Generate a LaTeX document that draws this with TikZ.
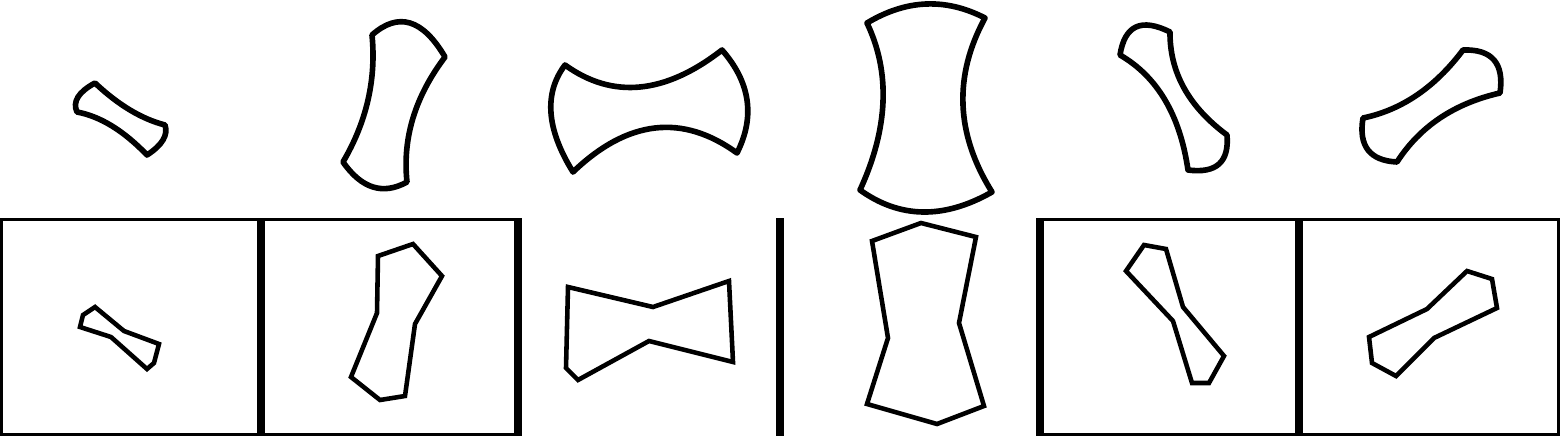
\documentclass[tikz,border=0pt]{standalone}
\usepackage{tikz}
\usetikzlibrary{calc}
% one curved edge from #1 to #3 that passes through #2
\newcommand{\arcto}[3]{.. controls ($1.3333*#2-0.3333*#3$) and ($1.3333*#2-0.3333*#1$) .. #3}
% one curved outline: corner, edge point, corner, ... (four edges)
\newcommand{\bone}[8]{\draw[curved] #1 \arcto{#1}{#2}{#3} \arcto{#3}{#4}{#5}
  \arcto{#5}{#6}{#7} \arcto{#7}{#8}{#1} -- cycle;}

\begin{document}
\begin{tikzpicture}[x=0.01cm,y=-0.01cm,
  curved/.style={line width=1.6pt,line join=round},
  poly/.style={line width=1.3pt,line join=miter},
  frame/.style={line width=0.85pt},
  divider/.style={line width=2.3pt}]
\useasboundingbox (0,0) rectangle (1560,436);
% frames of the lower row
\draw[frame] (1.5,219.5) rectangle (518,434.5);
\draw[frame] (1040,219.5) rectangle (1558.5,434.5);
\draw[divider] (261,218) -- (261,436);
\draw[divider] (518,218) -- (518,436);
\draw[divider] (780,218) -- (780,436);
\draw[divider] (1040,218) -- (1040,436);
\draw[divider] (1299,218) -- (1299,436);
% upper row: curved outlines
\bone{(95,83)}{(130,110)}{(165,125)}{(163,140)}{(147,155)}{(112,126)}{(77,112)}{(78,97)}
\bone{(372,35)}{(410,23)}{(445,57)}{(413,118)}{(407,182)}{(373,187)}{(343,162)}{(368,100)}
\bone{(565,65)}{(640,87)}{(722,50)}{(747,100)}{(737,153)}{(655,128)}{(573,172)}{(551,113)}
\bone{(867,23)}{(926,4)}{(985,18)}{(963,105)}{(992,192)}{(923,212)}{(860,190)}{(883,102)}
\bone{(1120,55)}{(1136,27)}{(1170,32)}{(1184,88)}{(1227,135)}{(1219,164)}{(1188,170)}{(1165,100)}
\bone{(1363,118)}{(1417,95)}{(1463,50)}{(1494,60)}{(1500,93)}{(1440,118)}{(1397,162)}{(1368,150)}
% lower row: polygons
\draw[poly] (95,307) -- (124,331) -- (159,344) -- (154,363) -- (147,369)
  -- (111,337) -- (80,327) -- (83,315) -- cycle;
\draw[poly] (378,256) -- (413,244) -- (442,276) -- (415,324) -- (405,396)
  -- (380,400) -- (351,377) -- (377,313) -- cycle;
\draw[poly] (568,287) -- (653,307) -- (729,281) -- (733,362) -- (649,341)
  -- (578,380) -- (566,368) -- cycle;
\draw[poly] (872,241) -- (921,223) -- (976,237) -- (959,323) -- (984,406)
  -- (937,424) -- (867,404) -- (888,338) -- cycle;
\draw[poly] (1126,271) -- (1144,245) -- (1166,249) -- (1183,307) -- (1224,356)
  -- (1209,383) -- (1192,383) -- (1173,321) -- cycle;
\draw[poly] (1467,271) -- (1492,279) -- (1497,308) -- (1434,338) -- (1396,376)
  -- (1372,363) -- (1369,337) -- (1427,309) -- cycle;
\end{tikzpicture}
\end{document}
